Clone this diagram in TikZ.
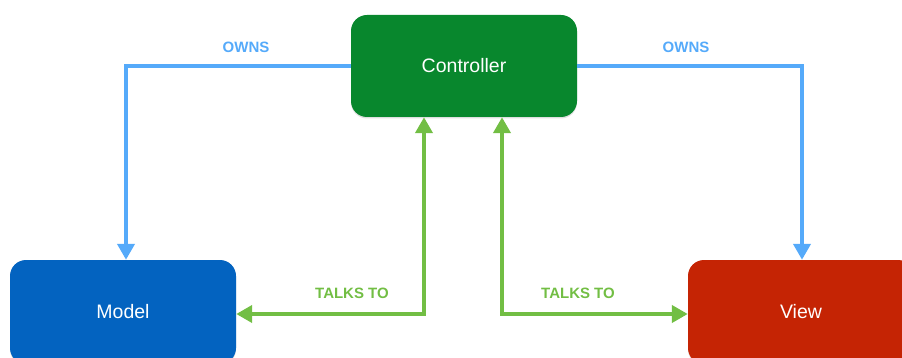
\documentclass[tikz,border=0pt]{standalone}
\usepackage{fontspec}
\setmainfont{Liberation Sans}
\usetikzlibrary{arrows.meta,shadows,calc}
\definecolor{ctrlgreen}{RGB}{8,135,45}
\definecolor{modelblue}{RGB}{3,99,192}
\definecolor{viewred}{RGB}{197,36,4}
\definecolor{ownblue}{RGB}{85,170,250}
\definecolor{talkgreen}{RGB}{114,190,68}
\tikzset{
  box/.style={rectangle, rounded corners=16pt, minimum width=226pt, text=white,
    font=\fontsize{19.5}{22}\selectfont, inner sep=0pt,
    drop shadow={opacity=0.25, shadow xshift=0pt, shadow yshift=-1.5pt}},
  owns/.style={draw=ownblue, line width=4pt, -{Triangle[width=17pt,length=16pt]}},
  talks/.style={draw=talkgreen, line width=4pt, {Triangle[width=17pt,length=16pt]}-{Triangle[width=17pt,length=16pt]}},
  lbl/.style={font=\bfseries\fontsize{15}{17}\selectfont, inner sep=0pt}
}
\begin{document}
\begin{tikzpicture}[x=1pt,y=-1pt]
\useasboundingbox (0,0) rectangle (902,358);
\node[box, fill=ctrlgreen, minimum height=102pt] (ctrl) at (464,66) {Controller};
\node[box, fill=modelblue, minimum height=104pt] (model) at (123,312) {Model};
\node[box, fill=viewred, minimum height=104pt] (view) at (801,312) {View};
\draw[owns] (ctrl.west) -| ([xshift=3pt]model.north);
\draw[owns] (ctrl.east) -| ([xshift=1pt]view.north);
\draw[talks] ([xshift=-40pt]ctrl.south) |- ([yshift=-2pt]model.east);
\draw[talks] ([xshift=38pt]ctrl.south) |- ([yshift=-2pt]view.west);
\node[lbl, text=ownblue] (o1) at (246,47) {OWNS};
\node[lbl, text=ownblue] (o2) at (686,47) {OWNS};
\node[lbl, text=talkgreen] (t1) at (352,293) {TALKS TO};
\node[lbl, text=talkgreen] (t2) at (578,293) {TALKS TO};
\end{tikzpicture}
\end{document}
